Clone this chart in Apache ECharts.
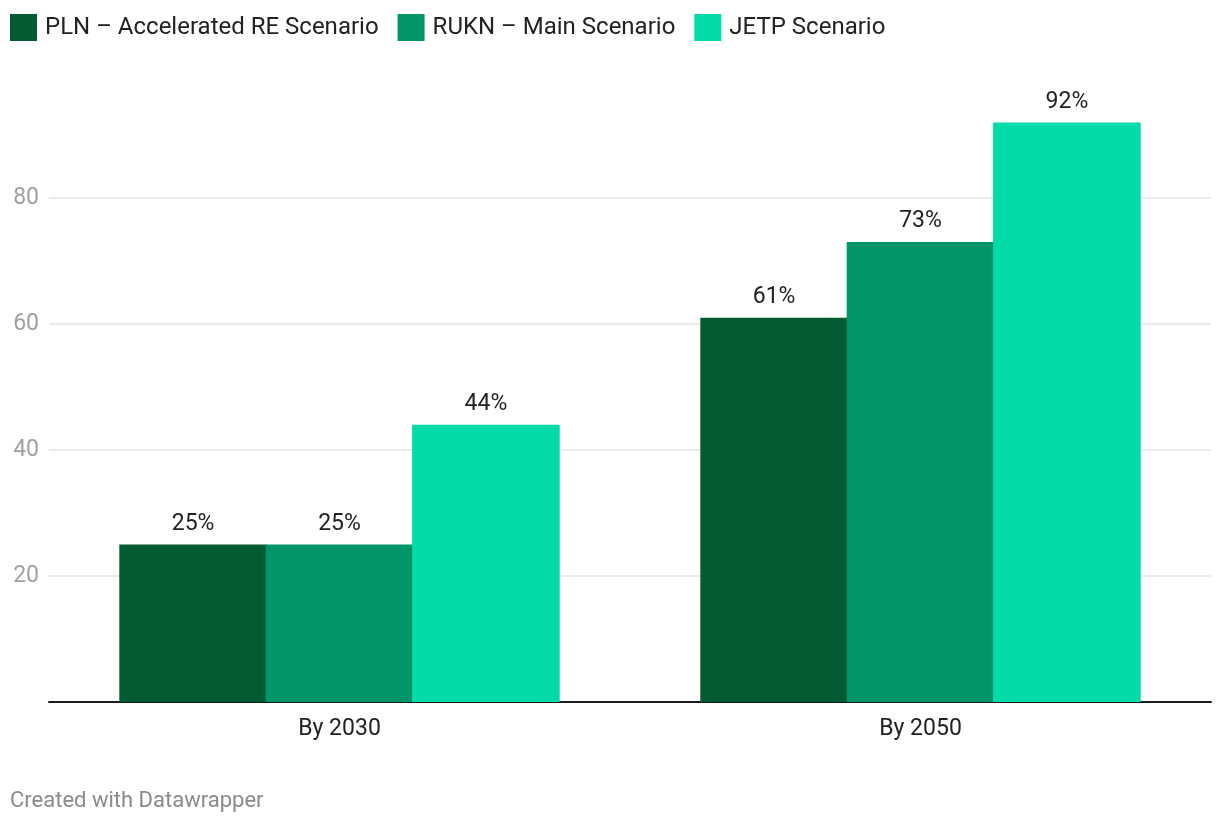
<!DOCTYPE html>
<html>
<head>
<meta charset="utf-8">
<script src="https://cdn.jsdelivr.net/npm/echarts@6/dist/echarts.min.js"></script>
<style>
html,body{margin:0;padding:0;background:#fff;}
#chart{width:1220px;height:824px;}
</style>
</head>
<body>
<div id="chart"></div>
<script>
const categories = ['By 2030', 'By 2050'];
const seriesNames = ['PLN – Accelerated RE Scenario', 'RUKN – Main Scenario', 'JETP Scenario'];
const plnValues = [25, 61];
const ruknValues = [25, 73];
const jetpValues = [44, 92];
const yTicks = [20, 40, 60, 80];
const colors = ['#035b32', '#019669', '#00dba7'];

const chart = echarts.init(document.getElementById('chart'));
const font = 'Roboto, "Noto Sans", sans-serif';
const values = [plnValues, ruknValues, jetpValues];
chart.setOption({
  animation: false,
  textStyle: { fontFamily: font },
  legend: {
    left: 5, top: 9,
    itemWidth: 27, itemHeight: 27, itemGap: 19,
    icon: 'rect',
    textStyle: { fontSize: 24, color: '#222', fontFamily: font, padding: [0, 0, 0, 3] },
    data: seriesNames
  },
  grid: { left: 49, right: 9, top: 72, bottom: 122 },
  xAxis: {
    type: 'category',
    data: categories,
    axisLine: { lineStyle: { color: '#1a1a1a', width: 2 } },
    axisTick: { show: false },
    axisLabel: { fontSize: 23, color: '#222', margin: 16, fontFamily: font }
  },
  yAxis: {
    type: 'value',
    min: 0, max: 100, interval: 20,
    axisLine: { show: false },
    axisTick: { show: false },
    axisLabel: {
      fontSize: 23, color: '#a0a0a0', fontFamily: font,
      showMinLabel: false, showMaxLabel: false,
      margin: 10,
      formatter: v => yTicks.includes(v) ? String(v) : ''
    },
    splitLine: { show: true, showMinLine: false, showMaxLine: false, lineStyle: { color: '#e3e3e3', width: 1.5 } }
  },
  series: seriesNames.map((name, i) => ({
    name,
    type: 'bar',
    data: values[i],
    itemStyle: { color: colors[i] },
    barGap: '-0.8%',
    barCategoryGap: '24.2%',
    label: {
      show: true, position: 'top', distance: 9,
      fontSize: 23, color: '#222', fontFamily: font,
      formatter: p => p.value + '%'
    }
  }))
});
</script>
<div style="position:absolute;left:10px;top:787px;font-family:Roboto,'Noto Sans',sans-serif;font-size:22px;color:#8a8a8a;">Created with Datawrapper</div>
</body>
</html>
